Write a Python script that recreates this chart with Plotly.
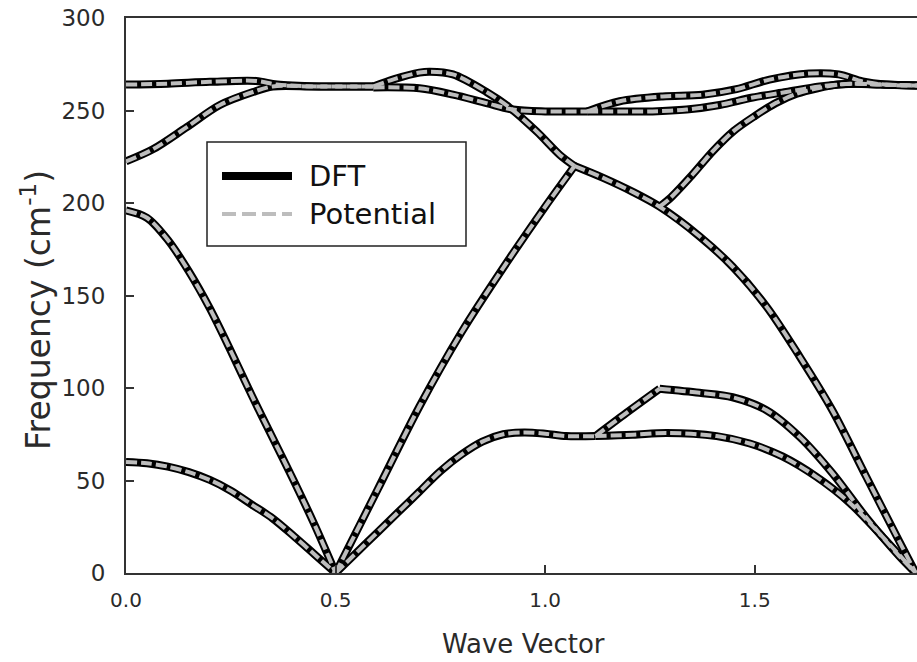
import plotly.graph_objects as go

# ---- phonon branches (Wave Vector, Frequency cm^-1) ----
low_a_x = [0.0, 0.05, 0.1, 0.15, 0.2, 0.25, 0.3, 0.35, 0.4, 0.45, 0.5]
low_a_y = [60, 59.3, 57.5, 54.5, 50.3, 44.5, 37, 29.5, 20, 10, 0]

high_a_x = [0.0, 0.05, 0.1, 0.15, 0.2, 0.25, 0.3, 0.35, 0.4, 0.45, 0.5]
high_a_y = [196, 192, 180, 163, 143, 120, 96, 73, 50, 26, 0]

opt_c_x = [0.0, 0.064, 0.145, 0.224, 0.303, 0.35, 0.45, 0.59]
opt_c_y = [222.5, 229, 241, 253, 260, 263, 263, 263]

opt_d_x = [0.0, 0.1, 0.2, 0.31, 0.36, 0.46, 0.59]
opt_d_y = [264, 264.5, 265.5, 266, 264, 263, 263]

top_up_x = [0.59, 0.64, 0.70, 0.725, 0.78, 0.86, 0.915, 0.98, 1.035, 1.07]
top_up_y = [263, 267, 270.5, 271, 269.5, 260, 251.6, 238.6, 226, 220]

top_down_x = [1.07, 1.137, 1.209, 1.273, 1.368, 1.447, 1.528, 1.607, 1.685, 1.766, 1.845, 1.884]
top_down_y = [220, 213.7, 206, 198, 182, 165.6, 144, 117, 88, 52, 17, 0]

mid_x = [0.59, 0.70, 0.78, 0.86, 0.923, 1.0, 1.1]
mid_y = [262.5, 262, 258.6, 254, 250.5, 249.5, 249.5]

mid_up_x = [1.1, 1.178, 1.28, 1.375, 1.456, 1.535, 1.63, 1.70, 1.757, 1.81, 1.887]
mid_up_y = [249.5, 255, 257.6, 258.5, 261.5, 266.7, 270, 269.5, 265.7, 264, 263.5]

mid_low_x = [1.1, 1.178, 1.256, 1.337, 1.416, 1.495, 1.575, 1.655, 1.733, 1.80, 1.887]
mid_low_y = [249.5, 249.5, 249.5, 250.5, 253, 257, 260, 263, 264.5, 264, 263.5]

rise_r_x = [1.273, 1.3, 1.35, 1.4, 1.45, 1.5, 1.55, 1.6, 1.65, 1.7, 1.75, 1.8, 1.887]
rise_r_y = [198, 203, 215, 228, 239, 247, 254, 259, 262, 264, 264.5, 264, 263.5]

rise_m_x = [0.5, 0.6, 0.7, 0.8, 0.9, 1.0, 1.07]
rise_m_y = [0, 45, 90, 130, 165, 198, 220]

acou_m_x = [0.5, 0.55, 0.6, 0.65, 0.7, 0.75, 0.8, 0.85, 0.9, 0.95, 1.0, 1.05, 1.12]
acou_m_y = [0, 11, 22, 33, 44, 55, 64, 71, 75, 76, 75.3, 74, 74]

acou_up_x = [1.12, 1.194, 1.273]
acou_up_y = [74, 86.6, 99.6]

acou_up2_x = [1.273, 1.368, 1.447, 1.528, 1.607, 1.685, 1.766, 1.845, 1.884]
acou_up2_y = [99.6, 97.4, 95, 88, 73.6, 54, 30, 9, 0]

acou_low_x = [1.12, 1.209, 1.29, 1.409, 1.488, 1.566, 1.647, 1.726, 1.805, 1.884]
acou_low_y = [74, 74.7, 75.7, 74, 70, 63, 52, 38, 19.5, 0]

branches = [
    (low_a_x, low_a_y), (high_a_x, high_a_y), (opt_c_x, opt_c_y), (opt_d_x, opt_d_y),
    (top_up_x, top_up_y), (top_down_x, top_down_y), (mid_x, mid_y), (mid_up_x, mid_up_y),
    (mid_low_x, mid_low_y), (rise_r_x, rise_r_y), (rise_m_x, rise_m_y), (acou_m_x, acou_m_y),
    (acou_up_x, acou_up_y), (acou_up2_x, acou_up2_y), (acou_low_x, acou_low_y),
]

x_ticks = [0.0, 0.5, 1.0, 1.5]
y_ticks = [0, 50, 100, 150, 200, 250, 300]
legend_names = ["DFT", "Potential"]

FONT = "DejaVu Sans"
TXT = "#2a2a2a"
DFT_COLOR = "black"
POT_COLOR = "#bdbdbd"

fig = go.Figure()
for bx, by in branches:
    fig.add_trace(go.Scatter(x=bx, y=by, mode="lines", showlegend=False, hoverinfo="skip",
                             line=dict(color=DFT_COLOR, width=8, shape="spline", smoothing=0.9)))
for bx, by in branches:
    fig.add_trace(go.Scatter(x=bx, y=by, mode="lines", showlegend=False, hoverinfo="skip",
                             line=dict(color=POT_COLOR, width=4, dash="11px,4px",
                                       shape="spline", smoothing=0.9)))

L, R, T, B = 126, 0, 18, 89
W, H = 917, 662
pw, ph = W - L - R, H - T - B

def px(xp):
    return (xp - L) / pw

def py(yp):
    return (H - B - yp) / ph

shapes = [
    dict(type="rect", xref="paper", yref="paper", x0=px(207), x1=px(466), y0=py(246), y1=py(142),
         line=dict(color="#222", width=1.5), fillcolor="white", layer="above"),
    dict(type="line", xref="paper", yref="paper", x0=px(222), x1=px(292), y0=py(176), y1=py(176),
         line=dict(color=DFT_COLOR, width=8), layer="above"),
    dict(type="line", xref="paper", yref="paper", x0=px(222), x1=px(292), y0=py(214), y1=py(214),
         line=dict(color=POT_COLOR, width=4, dash="14px,6px"), layer="above"),
]
annotations = [
    dict(xref="paper", yref="paper", x=px(307), y=py(176), text=legend_names[0], showarrow=False,
         xanchor="left", yanchor="middle", font=dict(family=FONT, size=29, color="#111")),
    dict(xref="paper", yref="paper", x=px(307), y=py(214), text=legend_names[1], showarrow=False,
         xanchor="left", yanchor="middle", font=dict(family=FONT, size=29, color="#111")),
    dict(xref="paper", yref="paper", x=px(36), y=py(310), text="Frequency (cm<sup>-1</sup>)",
         showarrow=False, textangle=-90, xanchor="center", yanchor="middle",
         font=dict(family=FONT, size=33, color=TXT)),
    dict(xref="paper", yref="paper", x=px(523), y=py(644), text="Wave Vector", showarrow=False,
         xanchor="center", yanchor="middle", font=dict(family=FONT, size=26, color=TXT)),
]

fig.update_layout(
    width=W, height=H, margin=dict(l=L, r=R, t=T, b=B),
    paper_bgcolor="white", plot_bgcolor="white",
    shapes=shapes, annotations=annotations, showlegend=False,
    xaxis=dict(range=[0, 1.887], tickvals=x_ticks, ticktext=[f"{v:.1f}" for v in x_ticks],
               ticks="inside", ticklen=8, tickwidth=1.5, tickcolor="#333",
               showline=True, linecolor="#333", linewidth=2, mirror=True,
               showgrid=False, zeroline=False, ticklabelstandoff=8,
               tickfont=dict(family=FONT, size=20, color=TXT)),
    yaxis=dict(range=[0, 300], tickvals=y_ticks, ticks="inside", ticklen=8, tickwidth=1.5,
               tickcolor="#333", showline=True, linecolor="#333", linewidth=2,
               showgrid=False, zeroline=False, ticklabelstandoff=14,
               tickfont=dict(family=FONT, size=23, color=TXT)),
)

fig.write_html("out.html")
